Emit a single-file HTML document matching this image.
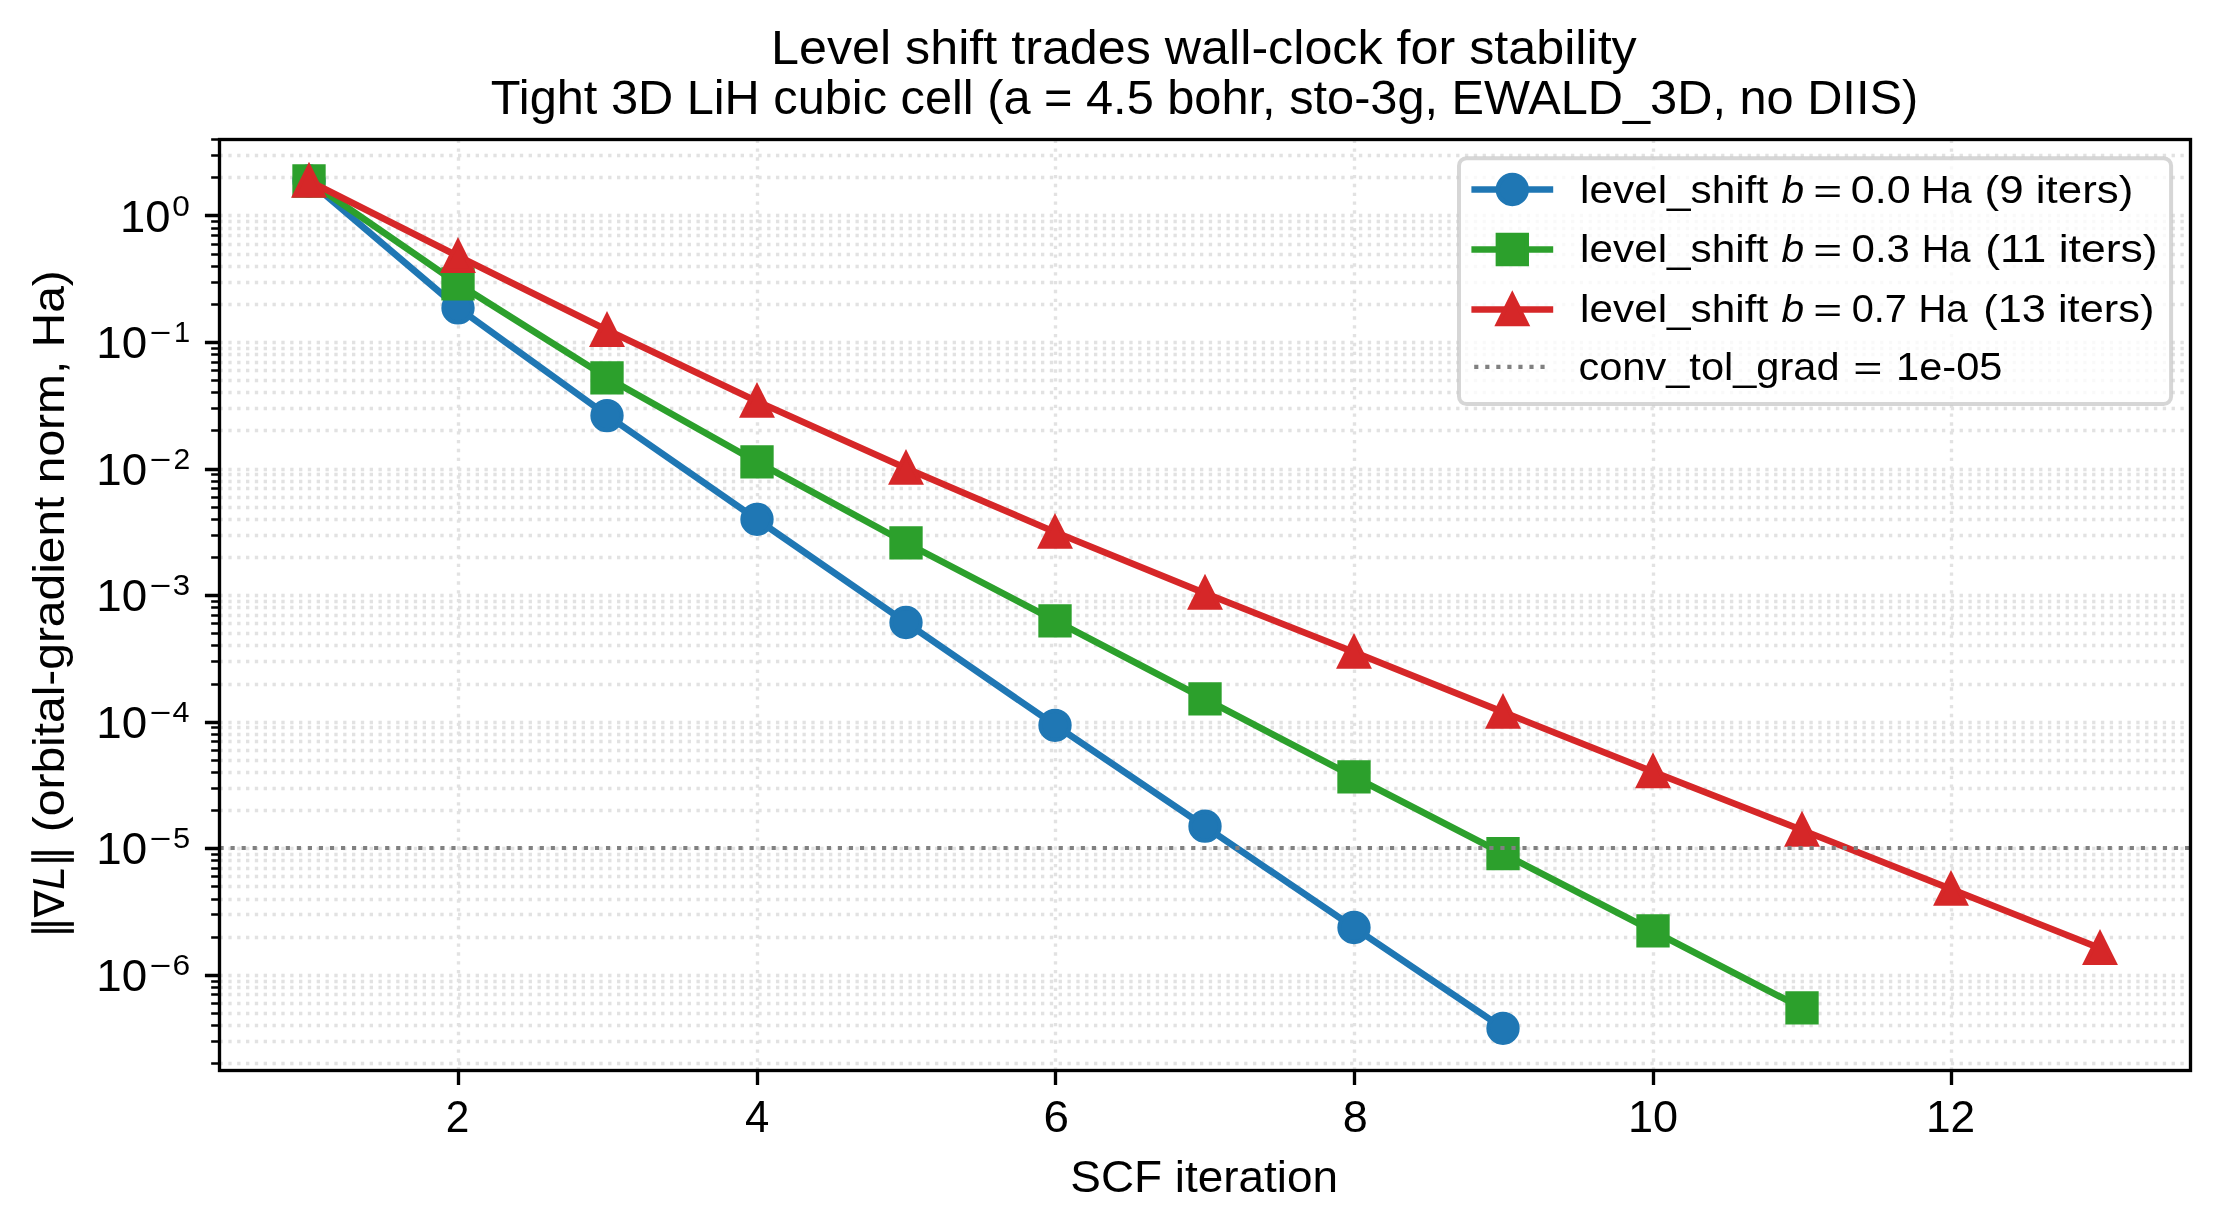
<!DOCTYPE html>
<html><head><meta charset="utf-8"><title>Level shift trades wall-clock for stability</title>
<style>html,body{margin:0;padding:0;background:#fff;width:2220px;height:1230px;overflow:hidden}svg{display:block;will-change:transform}text{font-family:"Liberation Sans",sans-serif}</style></head>
<body>
<svg width="2220" height="1230" viewBox="0 0 2220 1230"><rect x="0" y="0" width="2220" height="1230" fill="#ffffff"/>
<path d="M219.5 1063.5H2190.5M219.5 1041.5H2190.5M219.5 1025.5H2190.5M219.5 1013.5H2190.5M219.5 1003.5H2190.5M219.5 994.5H2190.5M219.5 987.5H2190.5M219.5 981.5H2190.5M219.5 975.5H2190.5M219.5 937.5H2190.5M219.5 914.5H2190.5M219.5 899.5H2190.5M219.5 886.5H2190.5M219.5 876.5H2190.5M219.5 868.5H2190.5M219.5 860.5H2190.5M219.5 854.5H2190.5M219.5 848.5H2190.5M219.5 810.5H2190.5M219.5 788.5H2190.5M219.5 772.5H2190.5M219.5 760.5H2190.5M219.5 750.5H2190.5M219.5 741.5H2190.5M219.5 734.5H2190.5M219.5 727.5H2190.5M219.5 722.5H2190.5M219.5 684.5H2190.5M219.5 661.5H2190.5M219.5 645.5H2190.5M219.5 633.5H2190.5M219.5 623.5H2190.5M219.5 615.5H2190.5M219.5 607.5H2190.5M219.5 601.5H2190.5M219.5 595.5H2190.5M219.5 557.5H2190.5M219.5 535.5H2190.5M219.5 519.5H2190.5M219.5 507.5H2190.5M219.5 497.5H2190.5M219.5 488.5H2190.5M219.5 481.5H2190.5M219.5 474.5H2190.5M219.5 469.5H2190.5M219.5 430.5H2190.5M219.5 408.5H2190.5M219.5 392.5H2190.5M219.5 380.5H2190.5M219.5 370.5H2190.5M219.5 362.5H2190.5M219.5 354.5H2190.5M219.5 348.5H2190.5M219.5 342.5H2190.5M219.5 304.5H2190.5M219.5 282.5H2190.5M219.5 266.5H2190.5M219.5 254.5H2190.5M219.5 244.5H2190.5M219.5 235.5H2190.5M219.5 228.5H2190.5M219.5 221.5H2190.5M219.5 215.5H2190.5M219.5 177.5H2190.5M219.5 155.5H2190.5M458.5 1070.5V139.5M757.5 1070.5V139.5M1055.5 1070.5V139.5M1354.5 1070.5V139.5M1653.5 1070.5V139.5M1951.5 1070.5V139.5" fill="none" stroke="#b0b0b0" stroke-opacity="0.36" stroke-width="3.333" stroke-dasharray="3.333 5.5"/>
<polyline points="308.9,181 458.19,307.9 607.48,415.6 756.77,519.3 906.06,622.5 1055.35,725.3 1204.64,826.2 1353.93,927.5 1503.22,1028.3" fill="none" stroke="#1f77b4" stroke-width="6.667" stroke-linejoin="round" stroke-linecap="butt"/><path d="M294.42 181a14.58 14.58 0 1 0 29.17 0a14.58 14.58 0 1 0 -29.17 0ZM443.42 307.9a14.58 14.58 0 1 0 29.17 0a14.58 14.58 0 1 0 -29.17 0ZM592.42 415.6a14.58 14.58 0 1 0 29.17 0a14.58 14.58 0 1 0 -29.17 0ZM742.42 519.3a14.58 14.58 0 1 0 29.17 0a14.58 14.58 0 1 0 -29.17 0ZM891.42 622.5a14.58 14.58 0 1 0 29.17 0a14.58 14.58 0 1 0 -29.17 0ZM1040.42 725.3a14.58 14.58 0 1 0 29.17 0a14.58 14.58 0 1 0 -29.17 0ZM1190.42 826.2a14.58 14.58 0 1 0 29.17 0a14.58 14.58 0 1 0 -29.17 0ZM1339.42 927.5a14.58 14.58 0 1 0 29.17 0a14.58 14.58 0 1 0 -29.17 0ZM1488.42 1028.3a14.58 14.58 0 1 0 29.17 0a14.58 14.58 0 1 0 -29.17 0Z" fill="#1f77b4" stroke="#1f77b4" stroke-width="4.167" stroke-linejoin="miter"/>
<polyline points="308.9,181 458.19,283.9 607.48,377.8 756.77,461.8 906.06,542.9 1055.35,620.8 1204.64,698.8 1353.93,776.8 1503.22,853.7 1652.51,930.8 1801.8,1007.9" fill="none" stroke="#2ca02c" stroke-width="6.667" stroke-linejoin="round" stroke-linecap="butt"/><path d="M294.42 166.42h29.17v29.17h-29.17ZM443.42 269.32h29.17v29.17h-29.17ZM592.42 363.22h29.17v29.17h-29.17ZM742.42 447.22h29.17v29.17h-29.17ZM891.42 528.32h29.17v29.17h-29.17ZM1040.42 606.22h29.17v29.17h-29.17ZM1190.42 684.22h29.17v29.17h-29.17ZM1339.42 762.22h29.17v29.17h-29.17ZM1488.42 839.12h29.17v29.17h-29.17ZM1638.42 916.22h29.17v29.17h-29.17ZM1787.42 993.32h29.17v29.17h-29.17Z" fill="#2ca02c" stroke="#2ca02c" stroke-width="4.167" stroke-linejoin="miter"/>
<polyline points="308.9,181 458.19,256.3 607.48,330.3 756.77,401.2 906.06,468.2 1055.35,532.2 1204.64,593.1 1353.93,652.2 1503.22,712.2 1652.51,771.6 1801.8,830 1951.09,889.2 2100.38,948.3" fill="none" stroke="#d62728" stroke-width="6.667" stroke-linejoin="round" stroke-linecap="butt"/><path d="M309 166.42L323.58 195.58L294.42 195.58ZM458 241.72L472.58 270.88L443.42 270.88ZM607 315.72L621.58 344.88L592.42 344.88ZM757 386.62L771.58 415.78L742.42 415.78ZM906 453.62L920.58 482.78L891.42 482.78ZM1055 517.62L1069.58 546.78L1040.42 546.78ZM1205 578.52L1219.58 607.68L1190.42 607.68ZM1354 637.62L1368.58 666.78L1339.42 666.78ZM1503 697.62L1517.58 726.78L1488.42 726.78ZM1653 757.02L1667.58 786.18L1638.42 786.18ZM1802 815.42L1816.58 844.58L1787.42 844.58ZM1951 874.62L1965.58 903.78L1936.42 903.78ZM2100 933.72L2114.58 962.88L2085.42 962.88Z" fill="#d62728" stroke="#d62728" stroke-width="4.167" stroke-linejoin="miter"/>
<path d="M219.5 848H2190.5" stroke="#808080" stroke-width="4.167" stroke-dasharray="4.167 6.875" fill="none"/>
<rect x="219.5" y="139.5" width="1971" height="931" fill="none" stroke="#000" stroke-width="3.333" stroke-linejoin="miter"/>
<path d="M219.5 975.5h-14.583M219.5 848.5h-14.583M219.5 722.5h-14.583M219.5 595.5h-14.583M219.5 469.5h-14.583M219.5 342.5h-14.583M219.5 215.5h-14.583M458.5 1070.5v14.583M757.5 1070.5v14.583M1055.5 1070.5v14.583M1354.5 1070.5v14.583M1653.5 1070.5v14.583M1951.5 1070.5v14.583" stroke="#000" stroke-width="3.333" fill="none"/>
<path d="M219.5 1063.5h-8.333M219.5 1041.5h-8.333M219.5 1025.5h-8.333M219.5 1013.5h-8.333M219.5 1003.5h-8.333M219.5 994.5h-8.333M219.5 987.5h-8.333M219.5 981.5h-8.333M219.5 937.5h-8.333M219.5 914.5h-8.333M219.5 899.5h-8.333M219.5 886.5h-8.333M219.5 876.5h-8.333M219.5 868.5h-8.333M219.5 860.5h-8.333M219.5 854.5h-8.333M219.5 810.5h-8.333M219.5 788.5h-8.333M219.5 772.5h-8.333M219.5 760.5h-8.333M219.5 750.5h-8.333M219.5 741.5h-8.333M219.5 734.5h-8.333M219.5 727.5h-8.333M219.5 684.5h-8.333M219.5 661.5h-8.333M219.5 645.5h-8.333M219.5 633.5h-8.333M219.5 623.5h-8.333M219.5 615.5h-8.333M219.5 607.5h-8.333M219.5 601.5h-8.333M219.5 557.5h-8.333M219.5 535.5h-8.333M219.5 519.5h-8.333M219.5 507.5h-8.333M219.5 497.5h-8.333M219.5 488.5h-8.333M219.5 481.5h-8.333M219.5 474.5h-8.333M219.5 430.5h-8.333M219.5 408.5h-8.333M219.5 392.5h-8.333M219.5 380.5h-8.333M219.5 370.5h-8.333M219.5 362.5h-8.333M219.5 354.5h-8.333M219.5 348.5h-8.333M219.5 304.5h-8.333M219.5 282.5h-8.333M219.5 266.5h-8.333M219.5 254.5h-8.333M219.5 244.5h-8.333M219.5 235.5h-8.333M219.5 228.5h-8.333M219.5 221.5h-8.333M219.5 177.5h-8.333M219.5 155.5h-8.333M219.5 139.5h-8.333" stroke="#000" stroke-width="2.5" fill="none"/>
<g fill="#000"><text x="445.76" y="1131.7" font-size="44.5" textLength="23.59" lengthAdjust="spacingAndGlyphs">2</text><text x="744.92" y="1131.7" font-size="44.5" textLength="24.31" lengthAdjust="spacingAndGlyphs">4</text><text x="1043.48" y="1131.7" font-size="44.5" textLength="25.47" lengthAdjust="spacingAndGlyphs">6</text><text x="1342.78" y="1131.7" font-size="44.5" textLength="25.05" lengthAdjust="spacingAndGlyphs">8</text><text x="1627.96" y="1131.7" font-size="44.5" textLength="50.12" lengthAdjust="spacingAndGlyphs">10</text><text x="1925.92" y="1131.7" font-size="44.5" textLength="49.22" lengthAdjust="spacingAndGlyphs">12</text><text x="120.13" y="231.8" font-size="44.5" textLength="50.45" lengthAdjust="spacingAndGlyphs">10</text><text x="172.39" y="215.6" font-size="30.2" textLength="17.56" lengthAdjust="spacingAndGlyphs">0</text><text x="96.3" y="357.8" font-size="44.5" textLength="50.9" lengthAdjust="spacingAndGlyphs">10</text><text x="149.86" y="342.8" font-size="30.2" textLength="21.64" lengthAdjust="spacingAndGlyphs">−</text><text x="174.04" y="341.6" font-size="30.2" textLength="16.15" lengthAdjust="spacingAndGlyphs">1</text><text x="96.3" y="484.8" font-size="44.5" textLength="50.9" lengthAdjust="spacingAndGlyphs">10</text><text x="149.86" y="469.8" font-size="30.2" textLength="21.64" lengthAdjust="spacingAndGlyphs">−</text><text x="173.51" y="468.6" font-size="30.2" textLength="16.74" lengthAdjust="spacingAndGlyphs">2</text><text x="96.3" y="610.8" font-size="44.5" textLength="50.9" lengthAdjust="spacingAndGlyphs">10</text><text x="149.86" y="595.8" font-size="30.2" textLength="21.64" lengthAdjust="spacingAndGlyphs">−</text><text x="172.71" y="594.6" font-size="30.2" textLength="17.33" lengthAdjust="spacingAndGlyphs">3</text><text x="96.3" y="737.7" font-size="44.5" textLength="50.9" lengthAdjust="spacingAndGlyphs">10</text><text x="149.86" y="722.7" font-size="30.2" textLength="21.64" lengthAdjust="spacingAndGlyphs">−</text><text x="172.54" y="721.5" font-size="30.2" textLength="16.96" lengthAdjust="spacingAndGlyphs">4</text><text x="96.3" y="864.3" font-size="44.5" textLength="50.9" lengthAdjust="spacingAndGlyphs">10</text><text x="149.86" y="849.3" font-size="30.2" textLength="21.64" lengthAdjust="spacingAndGlyphs">−</text><text x="172.93" y="848.1" font-size="30.2" textLength="17.09" lengthAdjust="spacingAndGlyphs">5</text><text x="96.3" y="990.8" font-size="44.5" textLength="50.9" lengthAdjust="spacingAndGlyphs">10</text><text x="149.86" y="975.8" font-size="30.2" textLength="21.64" lengthAdjust="spacingAndGlyphs">−</text><text x="172.43" y="974.6" font-size="30.2" textLength="17.64" lengthAdjust="spacingAndGlyphs">6</text><text x="1070.34" y="1191.9" font-size="44.5" textLength="267.68" lengthAdjust="spacingAndGlyphs">SCF iteration</text><g transform="translate(63.9 0) rotate(-90)"><text x="-832.16" y="0" font-size="44.5" textLength="561.91" lengthAdjust="spacingAndGlyphs">(orbital-gradient norm, Ha)</text><text x="-889.72" y="-0.3" font-size="44.5" textLength="23.51" lengthAdjust="spacingAndGlyphs" font-style="italic">L</text></g><text x="771.01" y="63.9" font-size="48" textLength="865.72" lengthAdjust="spacingAndGlyphs">Level shift trades wall-clock for stability</text><text x="490.89" y="113.9" font-size="48" textLength="1427.25" lengthAdjust="spacingAndGlyphs">Tight 3D LiH cubic cell (a = 4.5 bohr, sto-3g, EWALD_3D, no DIIS)</text></g>
<path d="M31.2 851.35H73.9V854.85H31.2ZM31.2 858.25H73.9V861.75H31.2ZM31.2 922.35H73.9V925.85H31.2ZM31.2 929.15H73.9V932.65H31.2Z" fill="#000"/>
<path d="M34.1 890.2L64 902L64 906.2L34.1 917.6ZM37.75 895.8L37.75 912.2L59.2 904Z" fill="#000" fill-rule="evenodd"/>
<rect x="1459" y="158.2" width="712.1" height="245.8" rx="7.5" ry="7.5" fill="#ffffff" fill-opacity="0.8" stroke="#cccccc" stroke-opacity="0.8" stroke-width="4"/><path d="M1471.4 189.5H1553.2" stroke="#1f77b4" stroke-width="6.667" fill="none"/><path d="M1497.72 189.5a14.58 14.58 0 1 0 29.17 0a14.58 14.58 0 1 0 -29.17 0Z" fill="#1f77b4" stroke="#1f77b4" stroke-width="4.167" stroke-linejoin="miter"/><path d="M1471.4 249.5H1553.2" stroke="#2ca02c" stroke-width="6.667" fill="none"/><path d="M1497.72 234.92h29.17v29.17h-29.17Z" fill="#2ca02c" stroke="#2ca02c" stroke-width="4.167" stroke-linejoin="miter"/><path d="M1471.4 309.5H1553.2" stroke="#d62728" stroke-width="6.667" fill="none"/><path d="M1512.3 294.92L1526.88 324.08L1497.72 324.08Z" fill="#d62728" stroke="#d62728" stroke-width="4.167" stroke-linejoin="miter"/><path d="M1474.2 366.9H1545" stroke="#808080" stroke-width="4.167" stroke-dasharray="4.167 6.875" fill="none"/><g fill="#000"><text x="1580.12" y="202.9" font-size="39" textLength="188.04" lengthAdjust="spacingAndGlyphs">level_shift</text><text x="1781.62" y="202.9" font-size="39" textLength="22.62" lengthAdjust="spacingAndGlyphs" font-style="italic">b</text><text x="1813.36" y="202.9" font-size="39" textLength="28.91" lengthAdjust="spacingAndGlyphs" transform="matrix(1 0 0 0.8680 0 26.425)">=</text><text x="1850.85" y="202.9" font-size="39" textLength="59.77" lengthAdjust="spacingAndGlyphs">0.0</text><text x="1921.32" y="202.9" font-size="39" textLength="50.34" lengthAdjust="spacingAndGlyphs">Ha</text><text x="1984.59" y="202.9" font-size="39" textLength="148.75" lengthAdjust="spacingAndGlyphs">(9 iters)</text><text x="1580.12" y="262.1" font-size="39" textLength="188.04" lengthAdjust="spacingAndGlyphs">level_shift</text><text x="1781.62" y="262.1" font-size="39" textLength="22.62" lengthAdjust="spacingAndGlyphs" font-style="italic">b</text><text x="1813.36" y="262.1" font-size="39" textLength="28.91" lengthAdjust="spacingAndGlyphs" transform="matrix(1 0 0 0.8680 0 34.239)">=</text><text x="1851.59" y="262.1" font-size="39" textLength="58.36" lengthAdjust="spacingAndGlyphs">0.3</text><text x="1921.71" y="262.1" font-size="39" textLength="48.95" lengthAdjust="spacingAndGlyphs">Ha</text><text x="1985.24" y="262.1" font-size="39" textLength="172.48" lengthAdjust="spacingAndGlyphs">(11 iters)</text><text x="1580.12" y="322" font-size="39" textLength="188.04" lengthAdjust="spacingAndGlyphs">level_shift</text><text x="1781.62" y="322" font-size="39" textLength="22.62" lengthAdjust="spacingAndGlyphs" font-style="italic">b</text><text x="1813.36" y="322" font-size="39" textLength="28.91" lengthAdjust="spacingAndGlyphs" transform="matrix(1 0 0 0.8680 0 42.146)">=</text><text x="1851.67" y="322" font-size="39" textLength="55.23" lengthAdjust="spacingAndGlyphs">0.7</text><text x="1918.39" y="322" font-size="39" textLength="49.27" lengthAdjust="spacingAndGlyphs">Ha</text><text x="1983.22" y="322" font-size="39" textLength="171.11" lengthAdjust="spacingAndGlyphs">(13 iters)</text><text x="1578.43" y="380.3" font-size="39" textLength="261.14" lengthAdjust="spacingAndGlyphs">conv_tol_grad</text><text x="1853.23" y="380.3" font-size="39" textLength="29.28" lengthAdjust="spacingAndGlyphs" transform="matrix(1 0 0 0.8720 0 47.946)">=</text><text x="1896.1" y="380.3" font-size="39" textLength="106.36" lengthAdjust="spacingAndGlyphs">1e-05</text></g></svg>
</body></html>
